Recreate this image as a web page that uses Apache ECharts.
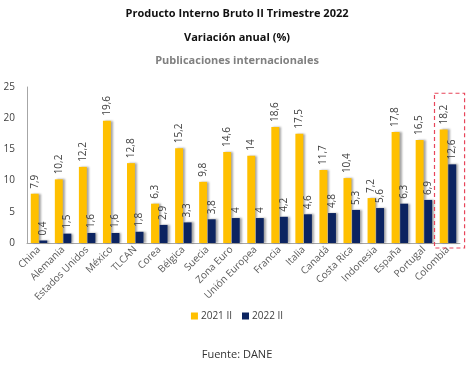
<!DOCTYPE html>
<html><head><meta charset="utf-8">
<script src="https://cdn.jsdelivr.net/npm/echarts@6/dist/echarts.min.js"></script>
<style>html,body{margin:0;padding:0;background:#fff}#c{width:474px;height:370px}</style>
</head><body><div id="c"></div>
<script>
const categories = ["China","Alemania","Estados Unidos","México","TLCAN","Corea","Bélgica","Suecia","Zona Euro","Unión Europea","Francia","Italia","Canadá","Costa Rica","Indonesia","España","Portugal","Colombia"];
const s2021 = [7.9,10.2,12.2,19.6,12.8,6.3,15.2,9.8,14.6,14,18.6,17.5,11.7,10.4,7.2,17.8,16.5,18.2];
const s2022 = [0.4,1.5,1.6,1.6,1.8,2.9,3.3,3.8,4,4,4.2,4.6,4.8,5.3,5.6,6.3,6.9,12.6];
const yTicks = [0,5,10,15,20,25];
const highlight = "Colombia";

const fmt = v => String(v).replace('.', ',');
const chart = echarts.init(document.getElementById('c'), null, {renderer:'canvas'});
const font = "'Open Sans', sans-serif";
const labelCfg = {show:true, position:'top', rotate:90, align:'left', verticalAlign:'middle', distance:5,
  fontSize:10, color:'#404040', fontFamily:font, formatter:p=>fmt(p.value)};
const shadow = {shadowColor:'rgba(0,0,0,0.35)', shadowBlur:2, shadowOffsetX:2, shadowOffsetY:0};
chart.setOption({
  animation:false,
  title:[
    {text:'Producto Interno Bruto II Trimestre 2022', left:'center', top:3, textStyle:{fontSize:11, fontWeight:'bold', color:'#111', fontFamily:font}},
    {text:'Variación anual (%)', left:'center', top:27, textStyle:{fontSize:11, fontWeight:'bold', color:'#111', fontFamily:font}},
    {text:'Publicaciones internacionales', left:'center', top:50, textStyle:{fontSize:11, fontWeight:'bold', color:'#808080', fontFamily:font}},
    {text:'Fuente: DANE', left:'center', top:344, textStyle:{fontSize:11, fontWeight:'normal', color:'#333', fontFamily:font}}
  ],
  legend:{bottom:44, left:'center', itemWidth:7, itemHeight:7, itemGap:10, icon:'rect',
    textStyle:{fontSize:10, color:'#404040', fontFamily:font, padding:[0,0,0,-2]}},
  grid:{left:27, right:14, top:87, bottom:127, containLabel:false},
  xAxis:{type:'category', data:categories,
    axisLine:{lineStyle:{color:'#a6a6a6'}}, axisTick:{show:false},
    axisLabel:{rotate:45, fontSize:10, color:'#595959', fontFamily:font, interval:0, margin:5}},
  yAxis:{type:'value', min:yTicks[0], max:yTicks[yTicks.length-1], interval:5,
    splitLine:{show:false}, axisLine:{show:true, lineStyle:{color:'#a6a6a6'}}, axisTick:{show:false},
    axisLabel:{fontSize:10, color:'#404040', fontFamily:font, margin:12}},
  series:[
    {name:'2021 II', type:'bar', data:s2021, barWidth:'33%', barGap:'8%', itemStyle:Object.assign({color:'#FFC000'}, shadow), label:labelCfg},
    {name:'2022 II', type:'bar', data:s2022, barWidth:'33%', barGap:'8%', itemStyle:Object.assign({color:'#0C2461'}, shadow), label:labelCfg}
  ]
});
// dashed highlight box around Colombia
const idx = categories.indexOf(highlight);
const p0 = chart.convertToPixel({xAxisIndex:0, yAxisIndex:0}, [idx, 24]);
const pb = chart.convertToPixel({xAxisIndex:0, yAxisIndex:0}, [idx, 0]);
const step = chart.convertToPixel({xAxisIndex:0}, 1) - chart.convertToPixel({xAxisIndex:0}, 0);
chart.setOption({graphic:[{type:'rect', shape:{x:p0[0]-step*0.56, y:p0[1], width:step*1.25, height:pb[1]-p0[1]+5},
  style:{fill:'none', stroke:'#e8455a', lineWidth:1.2, lineDash:[4,3]}, z:10}]});
</script></body></html>
